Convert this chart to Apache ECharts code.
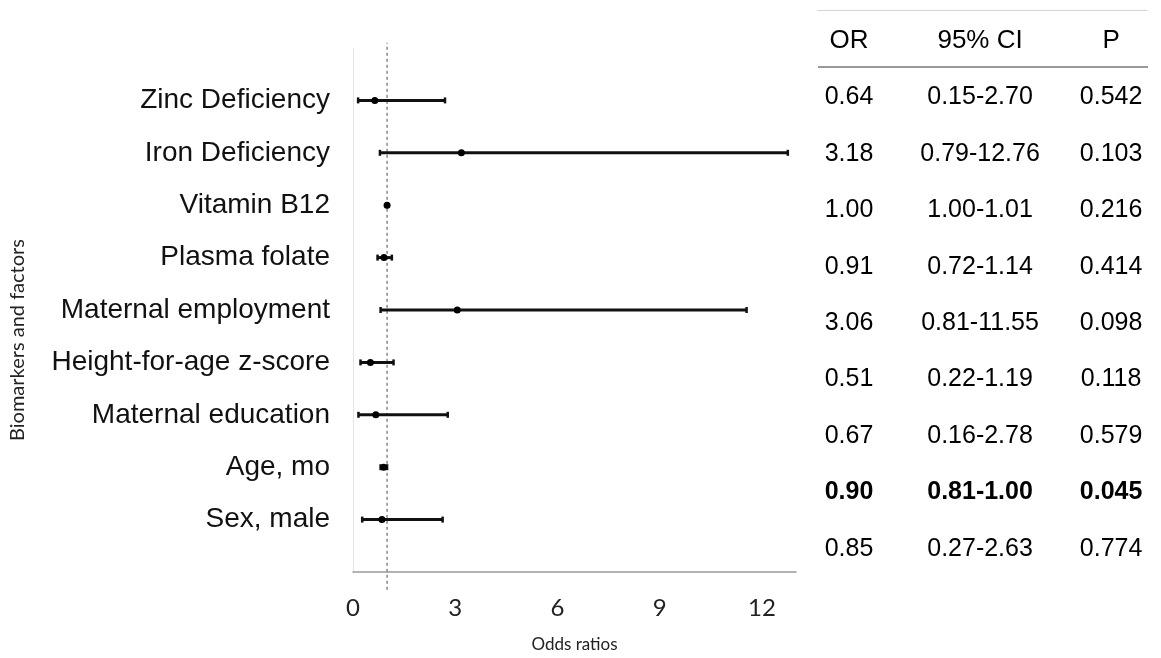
<!DOCTYPE html>
<html>
<head>
<meta charset="utf-8">
<script src="https://cdn.jsdelivr.net/npm/echarts@6/dist/echarts.min.js"></script>
<style>html,body{margin:0;padding:0;background:#fff}#chart{width:1161px;height:658px}</style>
</head>
<body>
<div id="chart"></div>
<script>
const categories = ['Zinc Deficiency','Iron Deficiency','Vitamin B12','Plasma folate','Maternal employment','Height-for-age z-score','Maternal education','Age, mo','Sex, male'];
const orValues = [0.64, 3.18, 1.00, 0.91, 3.06, 0.51, 0.67, 0.90, 0.85];
const ciLow = [0.15, 0.79, 1.00, 0.72, 0.81, 0.22, 0.16, 0.81, 0.27];
const ciHigh = [2.70, 12.76, 1.01, 1.14, 11.55, 1.19, 2.78, 1.00, 2.63];
const pValues = ['0.542','0.103','0.216','0.414','0.098','0.118','0.579','0.045','0.774'];
const tableHeaders = ['OR', '95% CI', 'P'];
const xTicks = [0, 3, 6, 9, 12];
const refValue = 1;

const n = categories.length;
const rowY = i => n - i; // top row -> highest value

const errData = categories.map((c, i) => [ciLow[i], ciHigh[i], rowY(i)]);
const dotData = categories.map((c, i) => [orValues[i], rowY(i)]);

const tableData = [];
tableHeaders.forEach((h, c) => tableData.push({ value: [c, 0], text: h, bold: false, header: true }));
categories.forEach((c, i) => {
  const bold = parseFloat(pValues[i]) < 0.05;
  tableData.push({ value: [0, i + 1], text: orValues[i].toFixed(2), bold });
  tableData.push({ value: [1, i + 1], text: ciLow[i].toFixed(2) + '-' + ciHigh[i].toFixed(2), bold });
  tableData.push({ value: [2, i + 1], text: pValues[i], bold });
});

const SANS = 'Arial, "Liberation Sans", sans-serif';
const chart = echarts.init(document.getElementById('chart'));
chart.setOption({
  animation: false,
  backgroundColor: '#fff',
  grid: [
    { left: 353, right: 365, top: 48, bottom: 86 },
    { left: 818, right: 13, top: 10, height: 567 }
  ],
  xAxis: [
    {
      type: 'value', gridIndex: 0, min: 0, max: 13, interval: 3,
      axisLine: { show: true, onZero: false, lineStyle: { color: '#999', width: 1.5 } },
      axisTick: { show: false },
      splitLine: { show: false },
      axisLabel: {
        showMaxLabel: false, margin: 24, color: '#222', fontSize: 24, fontFamily: 'Lato',
        formatter: v => (xTicks.indexOf(v) >= 0 ? String(v) : '')
      },
      name: 'Odds ratios', nameLocation: 'middle', nameGap: 64,
      nameTextStyle: { fontSize: 17, color: '#222', fontFamily: 'Lato' }
    },
    {
      type: 'value', gridIndex: 1, min: -0.237, max: 2.282, position: 'top',
      axisLine: { show: true, onZero: false, lineStyle: { color: '#ccc', width: 1, type: 'dotted' } },
      axisTick: { show: false }, axisLabel: { show: false }, splitLine: { show: false }
    }
  ],
  yAxis: [
    {
      type: 'value', gridIndex: 0, min: 0, max: 10, interval: 1,
      axisLine: { show: true, onZero: false, lineStyle: { color: '#ddd', width: 1, type: 'dotted' } },
      axisTick: { show: false },
      splitLine: { show: false },
      axisLabel: {
        margin: 23, color: '#111', fontSize: 28, fontFamily: SANS,
        formatter: v => { const i = n - v; return (i >= 0 && i < n) ? categories[i] : ''; }
      },
      name: 'Biomarkers and factors', nameLocation: 'middle', nameGap: 325,
      nameTextStyle: { fontSize: 20, color: '#222', fontFamily: 'Lato', padding: [0, 60, 0, 0] }
    },
    {
      type: 'value', gridIndex: 1, min: -0.55, max: 9.5, inverse: true, show: false
    }
  ],
  series: [
    {
      type: 'line', xAxisIndex: 0, yAxisIndex: 0, clip: false, silent: true,
      data: [[refValue, -0.34], [refValue, 10.1]], showSymbol: false, symbol: 'none',
      lineStyle: { color: '#888', width: 1.5, type: [3, 3] }, z: 1
    },
    {
      type: 'custom', xAxisIndex: 0, yAxisIndex: 0, data: errData, z: 3,
      renderItem: (params, api) => {
        const a = api.coord([api.value(0), api.value(2)]);
        const b = api.coord([api.value(1), api.value(2)]);
        const st = { stroke: '#111', lineWidth: 3 };
        return {
          type: 'group', children: [
            { type: 'line', shape: { x1: a[0], y1: a[1], x2: b[0], y2: b[1] }, style: st },
            { type: 'line', shape: { x1: a[0], y1: a[1] - 3, x2: a[0], y2: a[1] + 3 }, style: { stroke: '#111', lineWidth: 2.5 } },
            { type: 'line', shape: { x1: b[0], y1: b[1] - 3, x2: b[0], y2: b[1] + 3 }, style: { stroke: '#111', lineWidth: 2.5 } }
          ]
        };
      }
    },
    {
      type: 'scatter', xAxisIndex: 0, yAxisIndex: 0, data: dotData, z: 4,
      symbol: 'circle', symbolSize: 7, itemStyle: { color: '#000', opacity: 1 }
    },
    {
      type: 'scatter', xAxisIndex: 1, yAxisIndex: 1, symbolSize: 0, silent: true,
      itemStyle: { opacity: 1 },
      data: tableData.map(d => ({
        value: d.value,
        label: {
          show: true, position: 'inside', formatter: d.text,
          color: '#000', fontFamily: SANS,
          fontWeight: d.bold ? 'bold' : 'normal', fontSize: d.header ? 26 : 25
        }
      })),
      label: { show: true, color: '#000', fontSize: 25, fontFamily: SANS },
      markLine: {
        silent: true, symbol: 'none', label: { show: false },
        lineStyle: { color: '#999', width: 2, type: 'solid', opacity: 1 },
        data: [{ yAxis: 0.45 }]
      }
    }
  ]
});
</script>
</body>
</html>
